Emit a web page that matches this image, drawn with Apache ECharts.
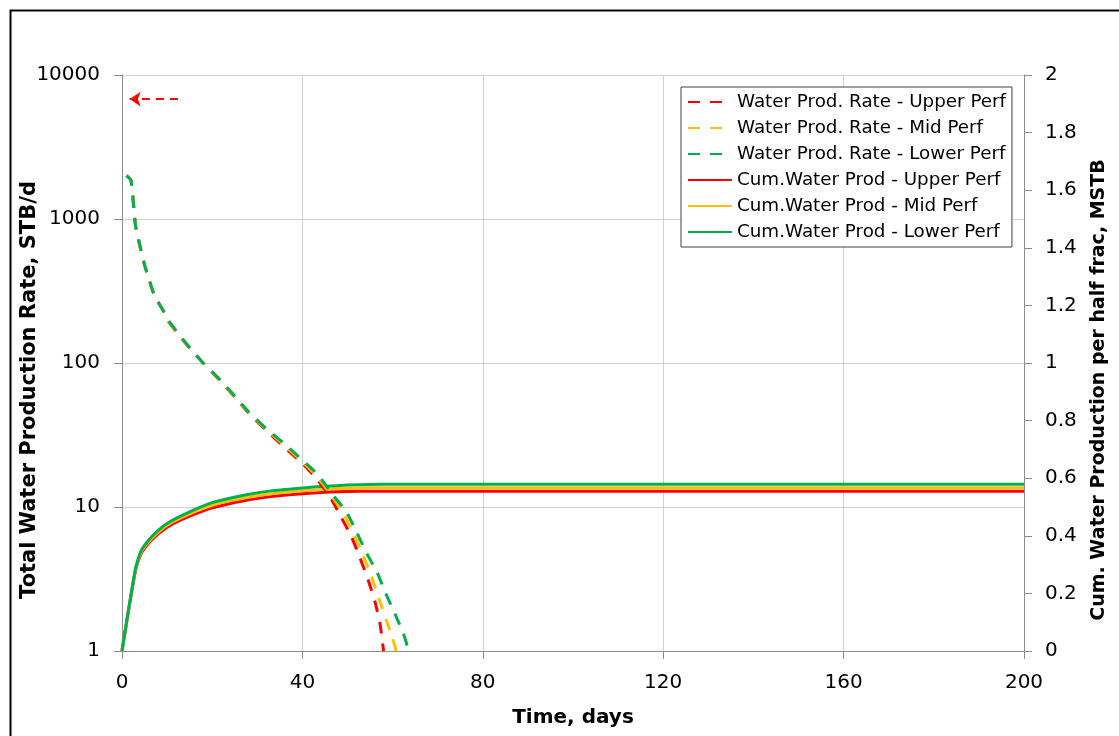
<!DOCTYPE html>
<html>
<head>
<meta charset="utf-8">
<script src="https://cdn.jsdelivr.net/npm/echarts@6/dist/echarts.min.js"></script>
<style>
  html, body { margin: 0; padding: 0; background: #fff; }
  #chart { width: 1119px; height: 736px; }
</style>
</head>
<body>
<div id="chart"></div>
<script>
// Water production rate per perforation cluster (STB/d), on a log axis
const rateTimeUpper = [1, 2, 3, 4, 5, 6, 7, 8, 9, 10, 12, 14, 16, 18, 20, 22, 25, 28, 32, 36, 40, 43.1, 46.1, 48.5, 50.9, 52.8, 54.6, 56.1, 57.2, 58];
const rateUpper     = [2000, 1850, 900, 640, 480, 380, 305, 265, 235, 200, 165, 138, 117, 100, 86, 74, 58, 45, 34, 26, 20, 15.8, 11.8, 8.6, 6.2, 4.4, 3.1, 2.19, 1.55, 1.0];

const rateTimeMid = [1, 2, 3, 4, 5, 6, 7, 8, 9, 10, 12, 14, 16, 18, 20, 22, 25, 28, 32, 36, 40, 43.3, 46.4, 49.1, 51.4, 53.5, 55.3, 57.0, 58.7, 59.9, 60.8];
const rateMid     = [2000, 1850, 900, 645, 480, 380, 305, 265, 235, 202, 166, 139, 118, 100, 86.5, 74.5, 58.5, 45.5, 34.5, 26.8, 20.6, 16.2, 12.0, 9.0, 6.5, 4.6, 3.3, 2.3, 1.6, 1.25, 1.0];

const rateTimeLower = [1, 2, 3, 4, 5, 6, 7, 8, 9, 10, 12, 14, 16, 18, 20, 22, 25, 28, 32, 36, 40, 43.5, 46.7, 49.7, 52, 54.2, 56.5, 58.5, 60.5, 62.4, 63.6];
const rateLower     = [2000, 1850, 900, 650, 480, 380, 305, 265, 235, 204, 168, 140, 118, 100, 87, 75, 59, 46, 35, 27.5, 21.2, 16.7, 12.2, 9.3, 6.7, 4.8, 3.55, 2.5, 1.82, 1.32, 1.0];

// Cumulative water production per half frac (MSTB)
const cumTime  = [0, 3, 4.3, 6.5, 10, 15, 20, 27, 33, 40, 45, 50, 55, 60, 80, 120, 160, 200];
const cumUpper = [0, 0.280, 0.340, 0.385, 0.430, 0.468, 0.497, 0.522, 0.536, 0.546, 0.551, 0.554, 0.555, 0.555, 0.555, 0.555, 0.555, 0.555];
const cumMid   = [0, 0.284, 0.345, 0.390, 0.437, 0.476, 0.506, 0.531, 0.546, 0.556, 0.562, 0.565, 0.567, 0.567, 0.567, 0.567, 0.567, 0.567];
const cumLower = [0, 0.287, 0.350, 0.396, 0.443, 0.483, 0.515, 0.541, 0.556, 0.566, 0.572, 0.576, 0.578, 0.579, 0.579, 0.579, 0.579, 0.579];

const seriesNames = [
  'Water Prod. Rate - Upper Perf',
  'Water Prod. Rate - Mid Perf',
  'Water Prod. Rate - Lower Perf',
  'Cum.Water Prod - Upper Perf',
  'Cum.Water Prod - Mid Perf',
  'Cum.Water Prod - Lower Perf'
];
const colors = { upper: '#FF0000', mid: '#FFC000', lower: '#00B050' };

// Arrow pointing to the rate (left) axis: [time, rate] from -> to
const axisArrow = [[12.4, 6800], [1.7, 6800]];

const FONT = 'DejaVu Sans';
const pairs = (xs, ys) => xs.map((x, i) => [x, ys[i]]);

function rateSeries(name, color, xs, ys, z) {
  return {
    name, type: 'line', xAxisIndex: 0, yAxisIndex: 0,
    data: pairs(xs, ys), symbol: 'none', smooth: 0.2, z,
    lineStyle: { color, width: 3, type: [12, 10] },
    itemStyle: { color }
  };
}
function cumSeries(name, color, ys, z) {
  return {
    name, type: 'line', xAxisIndex: 0, yAxisIndex: 1,
    data: pairs(cumTime, ys), symbol: 'none', smooth: 0.2, z,
    lineStyle: { color, width: 3 },
    itemStyle: { color }
  };
}

const upperRate = rateSeries(seriesNames[0], colors.upper, rateTimeUpper, rateUpper, 5);
upperRate.markLine = {
  silent: true,
  symbol: ['none', 'arrow'],
  symbolSize: [11, 11],
  label: { show: false },
  lineStyle: { color: colors.upper, width: 2, type: [8, 6] },
  data: [[{ coord: axisArrow[0] }, { coord: axisArrow[1] }]]
};

const axisGray = '#8C8C8C';
const gridGray = '#D0D0D0';
const titleStyle = { fontFamily: FONT, fontSize: 20, fontWeight: 'bold', color: '#000' };

const option = {
  animation: false,
  backgroundColor: '#fff',
  textStyle: { fontFamily: FONT },
  graphic: [{
    type: 'rect', left: 8, top: 8, silent: true,
    shape: { width: 1300, height: 900 },
    style: { fill: 'none', stroke: '#000', lineWidth: 2 }
  }],
  grid: { left: 122, right: 95, top: 75, bottom: 85, containLabel: false, outerBoundsMode: 'none' },
  legend: {
    orient: 'vertical',
    left: 681, top: 87,
    padding: [4, 6, 4, 6],
    backgroundColor: '#fff',
    borderColor: '#404040', borderWidth: 1,
    itemWidth: 44, itemHeight: 14, itemGap: 4,
    itemStyle: { opacity: 0 },
    data: seriesNames,
    textStyle: { fontFamily: FONT, fontSize: 18.3, color: '#000', lineHeight: 22, padding: [0, 0, 0, 0] }
  },
  xAxis: {
    type: 'value', min: 0, max: 200, interval: 40,
    name: 'Time, days', nameLocation: 'middle', nameGap: 57, nameMoveOverlap: false,
    nameTextStyle: titleStyle,
    axisLine: { show: true, lineStyle: { color: axisGray } },
    axisTick: { show: true, length: 8, lineStyle: { color: axisGray } },
    axisLabel: { fontFamily: FONT, fontSize: 20, color: '#000', margin: 22 },
    splitLine: { show: true, lineStyle: { color: gridGray, width: 1 } }
  },
  yAxis: [{
    type: 'log', logBase: 10, min: 1, max: 10000,
    position: 'left',
    name: 'Total Water Production Rate, STB/d', nameLocation: 'middle', nameGap: 82, nameRotate: 90,
    nameMoveOverlap: false,
    nameTextStyle: Object.assign({}, titleStyle, { fontSize: 21, padding: [0, 54, 0, 0] }),
    axisLine: { show: true, lineStyle: { color: axisGray } },
    axisTick: { show: true, length: 8, lineStyle: { color: axisGray } },
    axisLabel: { fontFamily: FONT, fontSize: 20, color: '#000', margin: 22, formatter: v => String(Math.round(v)) },
    splitLine: { show: true, lineStyle: { color: gridGray, width: 1 } },
    minorTick: { show: false }, minorSplitLine: { show: false }
  }, {
    type: 'value', min: 0, max: 2, interval: 0.2,
    position: 'right',
    name: 'Cum. Water Production per half frac, MSTB', nameLocation: 'middle', nameGap: 66, nameRotate: 90,
    nameMoveOverlap: false,
    nameTextStyle: Object.assign({}, titleStyle, { fontSize: 19, padding: [0, 54, 0, 0] }),
    axisLine: { show: true, lineStyle: { color: axisGray } },
    axisTick: { show: true, length: 8, lineStyle: { color: axisGray } },
    axisLabel: { fontFamily: FONT, fontSize: 20, color: '#000', margin: 21 },
    splitLine: { show: false }
  }],
  series: [
    cumSeries(seriesNames[3], colors.upper, cumUpper, 2),
    cumSeries(seriesNames[4], colors.mid, cumMid, 2),
    cumSeries(seriesNames[5], colors.lower, cumLower, 2),
    upperRate,
    rateSeries(seriesNames[1], colors.mid, rateTimeMid, rateMid, 5),
    rateSeries(seriesNames[2], colors.lower, rateTimeLower, rateLower, 5)
  ]
};

const chart = echarts.init(document.getElementById('chart'), null, { renderer: 'canvas' });
chart.setOption(option);
</script>
</body>
</html>
